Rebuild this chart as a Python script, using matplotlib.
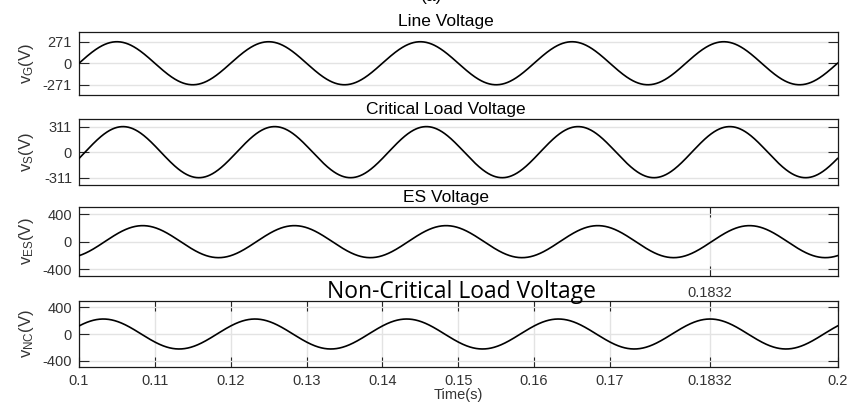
import numpy as np
import matplotlib.pyplot as plt
import matplotlib.transforms as mtransforms

plt.rcParams['font.family'] = ['Liberation Sans', 'DejaVu Sans']
plt.rcParams['mathtext.fontset'] = 'custom'
plt.rcParams['mathtext.rm'] = 'Liberation Sans'
plt.rcParams['mathtext.it'] = 'Liberation Sans:italic'

# time window and grid frequency (s, Hz)
t_start = 0.1
t_end = 0.2
freq = 50

# each trace: amplitude (V) and time of a positive peak (s)
titles = ['Line Voltage', 'Critical Load Voltage', 'ES Voltage', 'Non-Critical Load Voltage']
ylabels = [r'v$_{\mathrm{G}}$(V)', r'v$_{\mathrm{S}}$(V)', r'v$_{\mathrm{ES}}$(V)', r'v$_{\mathrm{NC}}$(V)']
amplitudes = [271, 311, 233, 225]
peak_times = [0.1050, 0.1058, 0.1084, 0.1032]
yticks = [[-271, 0, 271], [-311, 0, 311], [-400, 0, 400], [-400, 0, 400]]
ylims = [400, 400, 500, 500]

xticks = [0.1, 0.11, 0.12, 0.13, 0.14, 0.15, 0.16, 0.17, 0.1832, 0.2]
xtick_labels = ['0.1', '0.11', '0.12', '0.13', '0.14', '0.15', '0.16', '0.17', '0.1832', '0.2']
marker_time = 0.1832

t = np.linspace(t_start, t_end, 2001)

fig = plt.figure(figsize=(8.51, 4.09), dpi=100)
W, H = 851, 409
# axes boxes in pixels: top, bottom
boxes = [(31.5, 95.0), (119.3, 185.0), (207.3, 276.0), (300.7, 367.3)]
left, right = 79, 837.5

axes = []
for i, (top, bot) in enumerate(boxes):
    ax = fig.add_axes([left / W, 1 - bot / H, (right - left) / W, (bot - top) / H])
    axes.append(ax)
    v = amplitudes[i] * np.cos(2 * np.pi * freq * (t - peak_times[i]))
    ax.plot(t, v, color='black', lw=1.2, zorder=3)
    ax.set_xlim(t_start, t_end)
    ax.set_ylim(-ylims[i], ylims[i])
    ax.set_yticks(yticks[i])
    ax.set_yticklabels([str(y) for y in yticks[i]])
    ax.grid(True, axis='y', color='#e3e3e3', lw=1.0)
    ax.tick_params(axis='both', direction='in', length=7, width=0.8, colors='#262626',
                   labelsize=10.5, top=True, right=True, pad=5)
    ax.tick_params(axis='y', labelcolor='#333333')
    for s in ax.spines.values():
        s.set_linewidth(0.9)
        s.set_color('#1a1a1a')
    ax.set_ylabel(ylabels[i], fontsize=12, color='#333333')
    ax.yaxis.set_label_coords(-0.057, 0.5)
    if i < 3:
        ax.set_title(titles[i], fontsize=12.5, x=0.484, pad=4)

# top panels: no x ticks, ES panel carries the 0.1832 marker
axes[0].set_xticks([])
axes[1].set_xticks([])
axes[2].set_xticks([marker_time])
axes[2].set_xticklabels([])
axes[2].grid(True, axis='x', color='#e3e3e3', lw=1.0)

ax4 = axes[3]
ax4.set_xticks(xticks)
ax4.set_xticklabels(xtick_labels)
ax4.tick_params(axis='x', labelcolor='#333333')
ax4.grid(True, axis='x', color='#e3e3e3', lw=1.0)
ax4.set_xlabel('Time(s)', fontsize=10.5, color='#333333', labelpad=0)
ax4.set_title(titles[3], fontsize=16.5, family=['Open Sans', 'DejaVu Sans'], x=0.5046, pad=2)
trans = mtransforms.blended_transform_factory(ax4.transData, ax4.transAxes)
ax4.text(marker_time, 1.06, str(marker_time), transform=trans, ha='center', va='baseline',
         fontsize=10.5, color='#333333')

fig.text(432 / W, 1 - 4 / H, '(a)', ha='center', va='bottom', fontsize=12.5)

plt.savefig('out.png', dpi=100)
